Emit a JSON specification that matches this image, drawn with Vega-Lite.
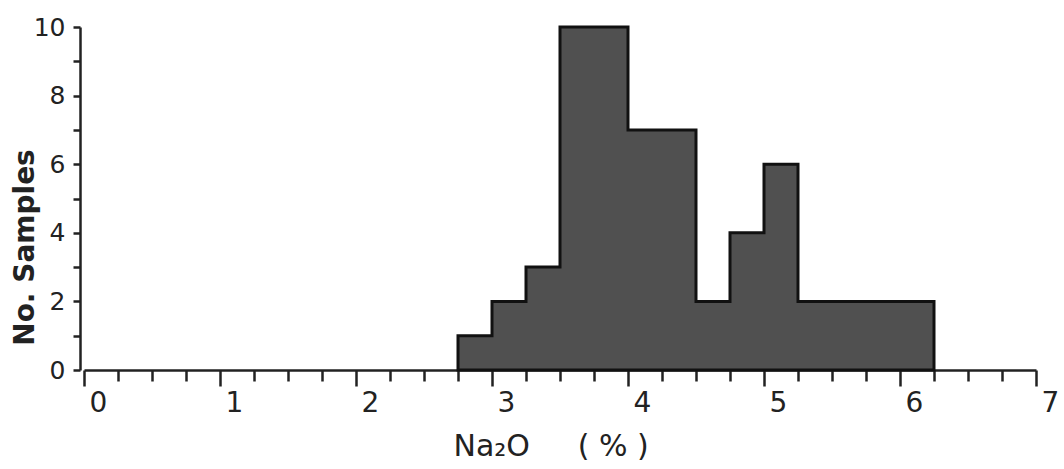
{
  "$schema": "https://vega.github.io/schema/vega-lite/v6.json",
  "width": 952,
  "height": 343,
  "autosize": "none",
  "padding": {"left": 84, "top": 27, "right": 28, "bottom": 99},
  "background": "white",
  "config": {"view": {"stroke": null}, "font": "DejaVu Sans"},
  "data": {
    "values": [
      {"na2o": 2.75, "count": 1},
      {"na2o": 3.0, "count": 2},
      {"na2o": 3.25, "count": 3},
      {"na2o": 3.5, "count": 10},
      {"na2o": 4.0, "count": 7},
      {"na2o": 4.5, "count": 2},
      {"na2o": 4.75, "count": 4},
      {"na2o": 5.0, "count": 6},
      {"na2o": 5.25, "count": 2},
      {"na2o": 6.25, "count": 2}
    ]
  },
  "mark": {
    "type": "area",
    "interpolate": "step-after",
    "fill": "#505050",
    "fillOpacity": 1,
    "stroke": "#111111",
    "strokeWidth": 3,
    "strokeJoin": "miter"
  },
  "encoding": {
    "x": {
      "field": "na2o",
      "type": "quantitative",
      "scale": {"domain": [0, 7], "nice": false, "zero": false},
      "axis": {
        "values": [0, 0.25, 0.5, 0.75, 1, 1.25, 1.5, 1.75, 2, 2.25, 2.5, 2.75, 3, 3.25, 3.5, 3.75, 4, 4.25, 4.5, 4.75, 5, 5.25, 5.5, 5.75, 6, 6.25, 6.5, 6.75, 7],
        "labelExpr": "datum.value % 1 === 0 ? format(datum.value, 'd') : ''",
        "grid": false,
        "tickSize": {"condition": {"test": "datum.value % 1 === 0", "value": 16}, "value": 11},
        "tickWidth": 2.5,
        "tickColor": "#222222",
        "domainColor": "#222222",
        "domainWidth": 2.5,
        "labelFontSize": 28,
        "labelColor": "#222222",
        "labelOffset": 14,
        "labelPadding": 3,
        "labelFlush": false,
        "labelOverlap": false,
        "title": "Na₂O\u00a0\u00a0\u00a0\u00a0\u00a0(\u00a0%\u00a0)",
        "titleFontSize": 30,
        "titleFontWeight": "normal",
        "titleColor": "#222222",
        "titleX": 369,
        "titleY": 85,
        "titleAlign": "left",
        "titleBaseline": "alphabetic"
      }
    },
    "y": {
      "field": "count",
      "type": "quantitative",
      "scale": {"domain": [0, 10], "nice": false},
      "axis": {
        "values": [0, 1, 2, 3, 4, 5, 6, 7, 8, 9, 10],
        "labelExpr": "datum.value % 2 === 0 ? format(datum.value, 'd') : ''",
        "grid": false,
        "offset": 4,
        "tickSize": 7,
        "tickWidth": 2.5,
        "tickColor": "#222222",
        "domainColor": "#222222",
        "domainWidth": 2.5,
        "labelFontSize": 25,
        "labelColor": "#222222",
        "labelPadding": 8,
        "labelFlush": false,
        "labelOverlap": false,
        "title": "No. Samples",
        "titleFontSize": 28,
        "titleFontWeight": "bold",
        "titleColor": "#222222",
        "titleAngle": -90,
        "titleX": -47,
        "titleY": 220,
        "titleAlign": "center",
        "titleBaseline": "alphabetic"
      }
    }
  }
}
